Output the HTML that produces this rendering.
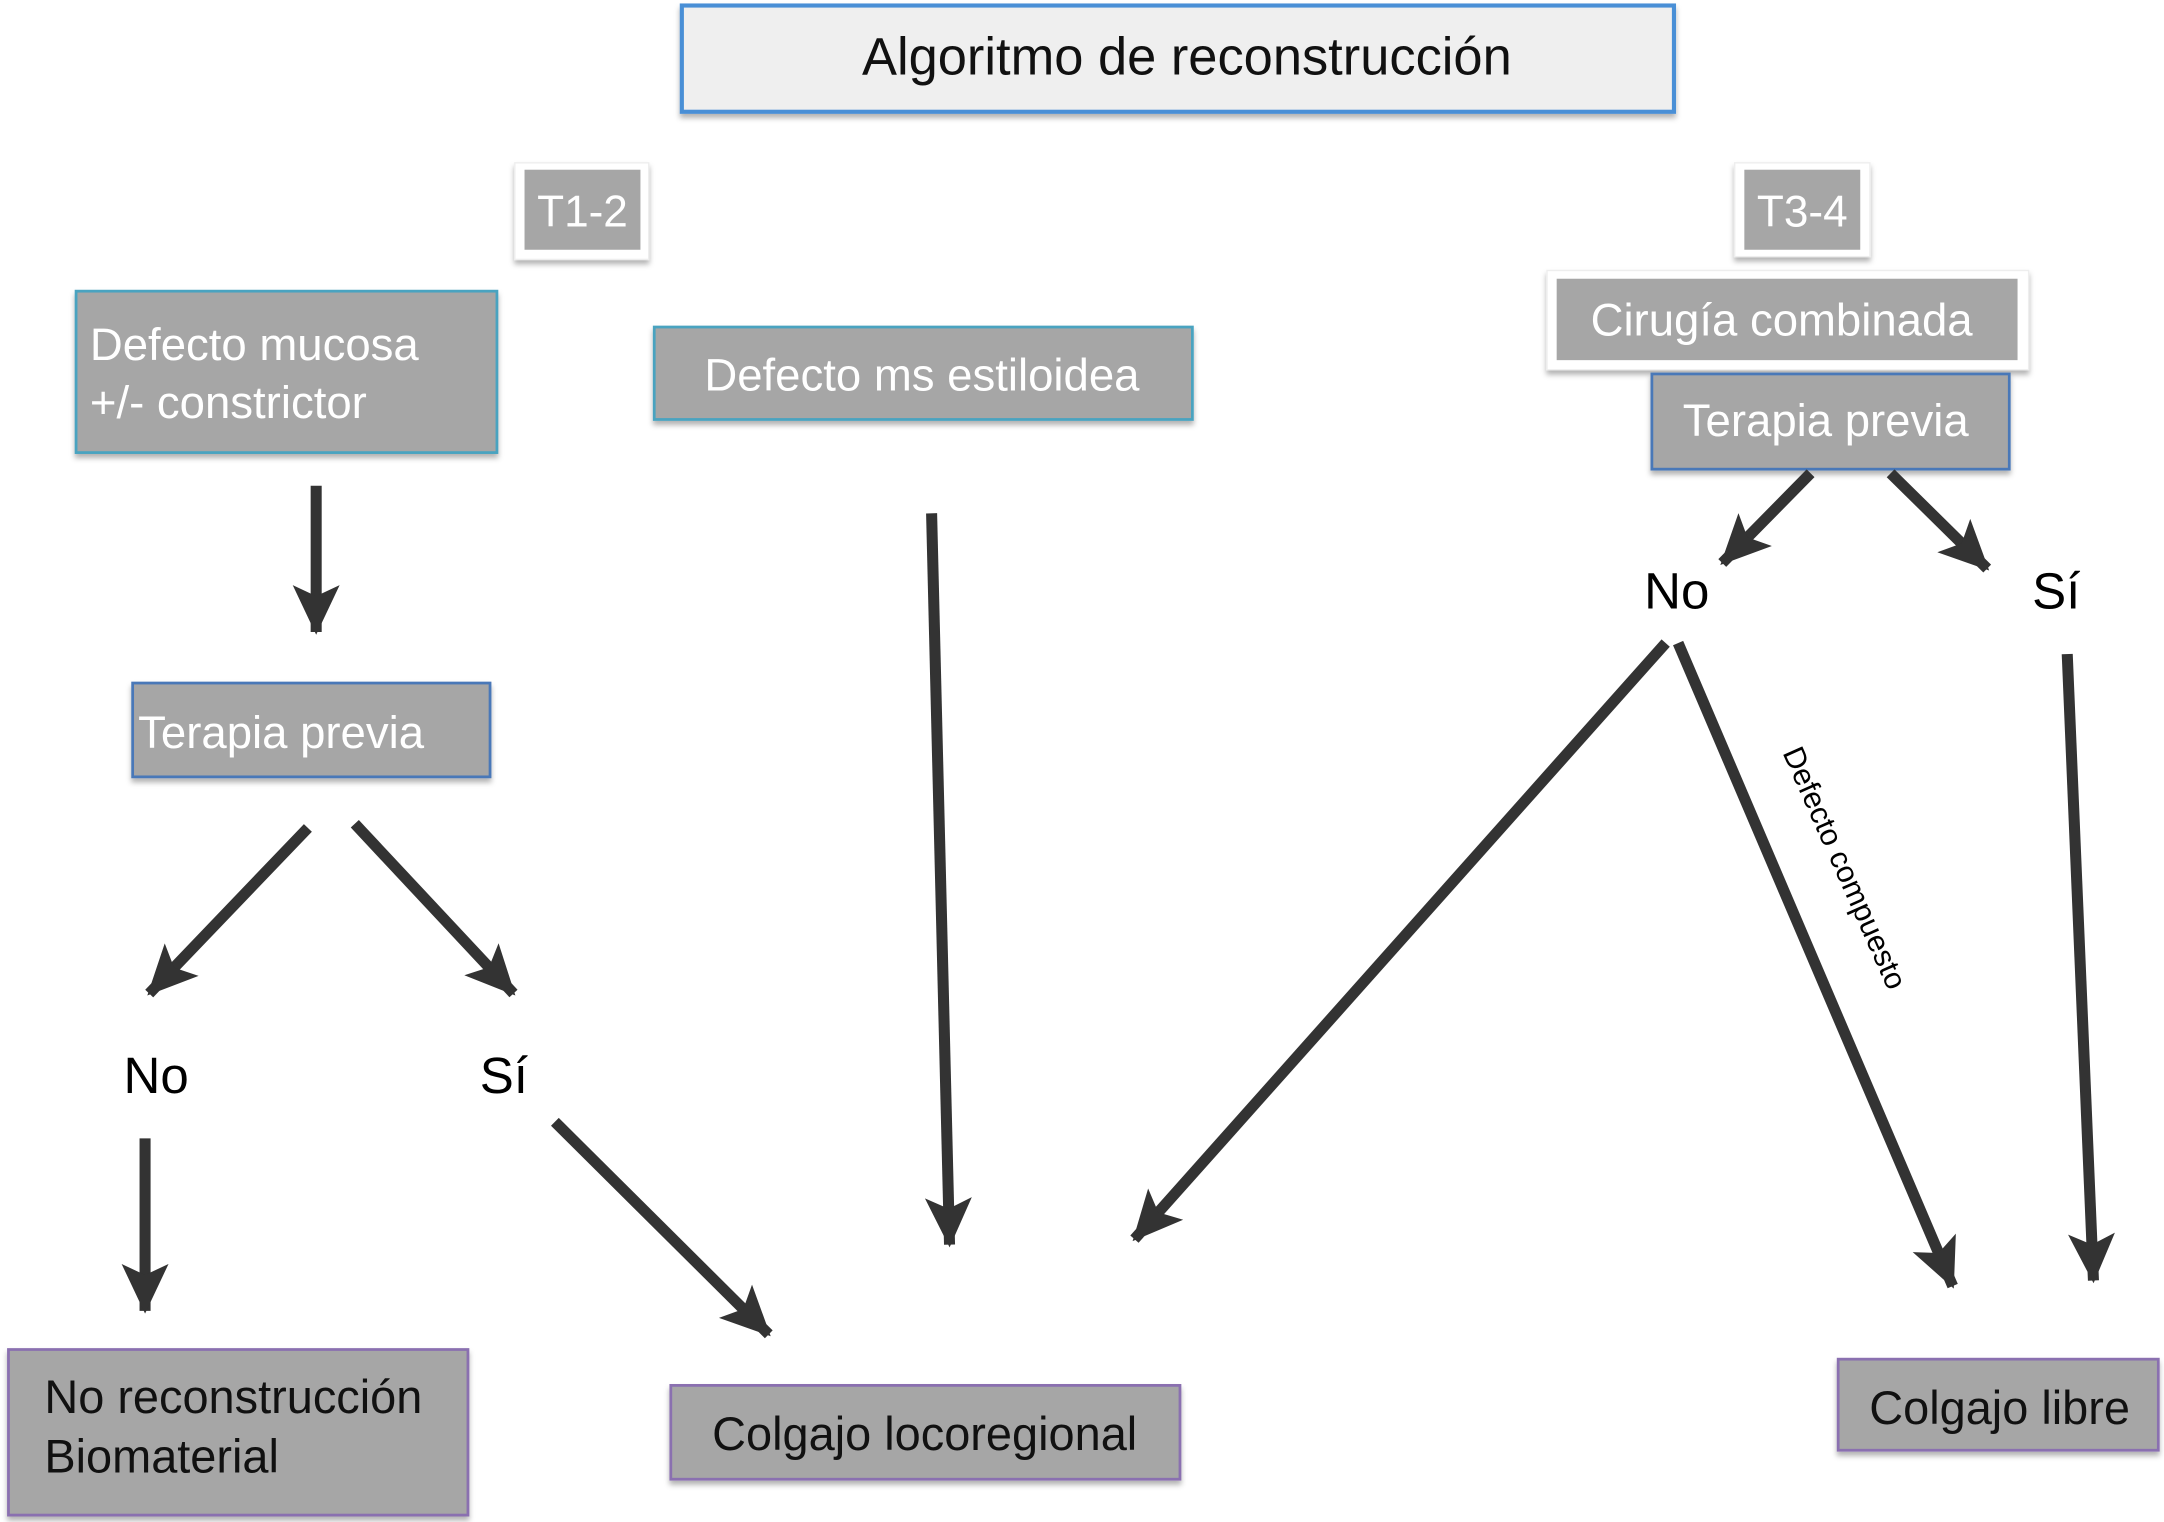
<!DOCTYPE html>
<html><head><meta charset="utf-8"><style>html,body{margin:0;padding:0;background:#fff}svg{display:block}</style></head>
<body>
<svg width="2164" height="1522" viewBox="0 0 1568 1103" xmlns="http://www.w3.org/2000/svg" font-family="Liberation Sans, Arial, sans-serif">
<defs>
<marker id="a" markerUnits="userSpaceOnUse" markerWidth="40" markerHeight="40" viewBox="0 0 40 40" refX="34" refY="20" orient="auto">
<path d="M0,3 L36,20 L0,37 L8,20 Z" fill="#333"/>
</marker>
<filter id="s" x="-10%" y="-10%" width="120%" height="130%"><feDropShadow dx="0" dy="3" stdDeviation="2" flood-color="#000" flood-opacity="0.3"/></filter>
</defs>
<!-- Title -->
<rect x="494" y="4" width="719" height="77" fill="#efefef" stroke="#4a8fd6" stroke-width="3" filter="url(#s)"/>
<text x="860" y="54" font-size="38" text-anchor="middle" fill="#111">Algoritmo de reconstrucción</text>
<!-- T1-2 -->
<rect x="373" y="118" width="97" height="70" fill="#fff" stroke="#eee" filter="url(#s)"/>
<rect x="380" y="123" width="84" height="58" fill="#a6a6a6"/>
<text x="422" y="164" font-size="32" text-anchor="middle" fill="#fff">T1-2</text>
<!-- T3-4 -->
<rect x="1257" y="118" width="98" height="68" fill="#fff" stroke="#eee" filter="url(#s)"/>
<rect x="1264" y="123" width="84" height="58" fill="#a6a6a6"/>
<text x="1306" y="164" font-size="32" text-anchor="middle" fill="#fff">T3-4</text>
<!-- Cirugia combinada -->
<rect x="1121" y="196" width="349" height="72" fill="#fff" stroke="#eee" filter="url(#s)"/>
<rect x="1128" y="202" width="334" height="59" fill="#a6a6a6"/>
<text x="1291" y="243" font-size="33" text-anchor="middle" fill="#fff">Cirugía combinada</text>
<!-- Terapia previa right -->
<rect x="1197" y="271" width="259" height="69" fill="#a6a6a6" stroke="#4a78b8" stroke-width="2" filter="url(#s)"/>
<text x="1323" y="316" font-size="33" text-anchor="middle" fill="#fff">Terapia previa</text>
<!-- Defecto mucosa -->
<rect x="55" y="211" width="305" height="117" fill="#a6a6a6" stroke="#4aa3c0" stroke-width="2" filter="url(#s)"/>
<text x="65" y="261" font-size="33" fill="#fff">Defecto mucosa</text>
<text x="65" y="303" font-size="33" fill="#fff">+/- constrictor</text>
<!-- Defecto ms estiloidea -->
<rect x="474" y="237" width="390" height="67" fill="#a6a6a6" stroke="#4aa3c0" stroke-width="2" filter="url(#s)"/>
<text x="668" y="283" font-size="33" text-anchor="middle" fill="#fff">Defecto ms estiloidea</text>
<!-- Terapia previa left -->
<rect x="96" y="495" width="259" height="68" fill="#a6a6a6" stroke="#4a78b8" stroke-width="2" filter="url(#s)"/>
<text x="100" y="542" font-size="33" fill="#fff">Terapia previa</text>
<!-- labels -->
<text x="113" y="792" font-size="37" text-anchor="middle" fill="#000">No</text>
<text x="365" y="792" font-size="37" text-anchor="middle" fill="#000">Sí</text>
<text x="1215" y="441" font-size="37" text-anchor="middle" fill="#000">No</text>
<text x="1490" y="441" font-size="37" text-anchor="middle" fill="#000">Sí</text>
<!-- bottom boxes -->
<rect x="6" y="978" width="333" height="120" fill="#a6a6a6" stroke="#8a6fb0" stroke-width="2" filter="url(#s)"/>
<text x="32" y="1024" font-size="34" fill="#111">No reconstrucción</text>
<text x="32" y="1067" font-size="34" fill="#111">Biomaterial</text>
<rect x="486" y="1004" width="369" height="68" fill="#a6a6a6" stroke="#8a6fb0" stroke-width="2" filter="url(#s)"/>
<text x="670" y="1051" font-size="34" text-anchor="middle" fill="#111">Colgajo locoregional</text>
<rect x="1332" y="985" width="232" height="66" fill="#a6a6a6" stroke="#8a6fb0" stroke-width="2" filter="url(#s)"/>
<text x="1449" y="1032" font-size="34" text-anchor="middle" fill="#111">Colgajo libre</text>
<!-- arrows -->
<g stroke="#333" stroke-width="8" fill="none" marker-end="url(#a)">
<line x1="229" y1="352" x2="229" y2="458"/>
<line x1="223" y1="600" x2="108" y2="720"/>
<line x1="257" y1="597" x2="372" y2="720"/>
<line x1="105" y1="825" x2="105" y2="950"/>
<line x1="402" y1="813" x2="557" y2="967"/>
<line x1="675" y1="372" x2="688" y2="902"/>
<line x1="1312" y1="343" x2="1248" y2="408"/>
<line x1="1370" y1="343" x2="1440" y2="412"/>
<line x1="1207" y1="466" x2="822" y2="898"/>
<line x1="1216" y1="466" x2="1415" y2="932"/>
<line x1="1498" y1="474" x2="1517" y2="928"/>
</g>
<text x="1330" y="632" font-size="22" text-anchor="middle" fill="#000" transform="rotate(66 1330 632)">Defecto compuesto</text>
</svg>
</body></html>
